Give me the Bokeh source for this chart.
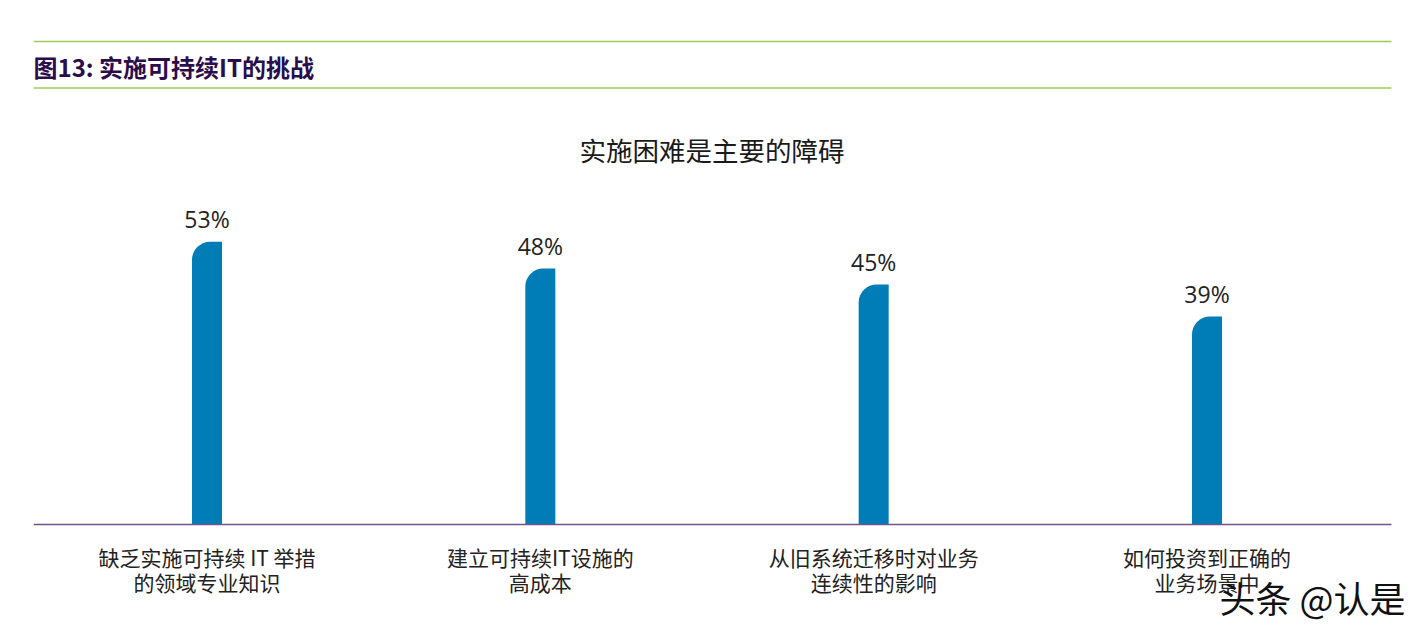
from bokeh.plotting import figure
from bokeh.models import ColumnDataSource, Range1d, Label
from bokeh.core.properties import value
from bokeh.embed import file_html
from bokeh.resources import INLINE

# ---- data ----
categories = ["缺乏实施可持续 IT 举措\n的领域专业知识",
              "建立可持续IT设施的\n高成本",
              "从旧系统迁移时对业务\n连续性的影响",
              "如何投资到正确的\n业务场景中"]
values = [53, 48, 45, 39]
value_labels = ["53%", "48%", "45%", "39%"]

header_title = "图13: 实施可持续IT的挑战"
chart_title = "实施困难是主要的障碍"
watermark = "头条 @认是"

CJK = "Noto Sans CJK SC"
LAT = "Open Sans"

idx = list(range(len(categories)))
line1 = [c.split("\n")[0] for c in categories]
line2 = [c.split("\n")[1] for c in categories]
src = ColumnDataSource(dict(x=idx, top=values, lab=value_labels, l1=line1, l2=line2))

# ---- layout ----
px_per_unit = 16 / 3.0          # px per percentage point
px_per_cat = 1000 / 3.0          # px per category
BASE = 524
FIG_W, FIG_H = 1419, 626
LEFT = 33
X_START = -0.5205
RULE_END = X_START + (1391 - LEFT) / px_per_cat
X_END = X_START + (FIG_W - LEFT) / px_per_cat
y_top = BASE / px_per_unit
y_bot = -(FIG_H - BASE) / px_per_unit

p = figure(width=FIG_W, height=FIG_H, output_backend="svg", toolbar_location=None,
           x_range=Range1d(X_START, X_END),
           y_range=Range1d(y_bot, y_top),
           x_axis_location=None, y_axis_location=None,
           min_border_left=LEFT, min_border_right=0, min_border_top=0, min_border_bottom=0)
p.grid.visible = False
p.outline_line_color = None
p.background_fill_color = "white"
p.border_fill_color = "white"

def ypix(page_y):
    return (BASE - page_y) / px_per_unit

# header rules
rules_y = [ypix(41), ypix(87.5)]
p.segment(x0=[X_START] * 2, x1=[RULE_END] * 2, y0=rules_y, y1=rules_y,
          line_color="#9CCB5E", line_width=1.5)

# header title
p.add_layout(Label(x=0, y=ypix(65.5), x_units="screen", text=header_title,
                   text_font=CJK, text_font_size="24px", text_font_style="bold",
                   text_color="#2B0D4D", text_baseline="middle", text_align="left"))
# chart title
p.add_layout(Label(x=(711.5 - LEFT), y=ypix(149), x_units="screen", text=chart_title,
                   text_font=CJK, text_font_size="26.5px", text_font_style="normal",
                   text_color="#1a1a1a", text_baseline="middle", text_align="center"))

# bars
p.vbar(x="x", top="top", bottom=0, width=30 / px_per_cat, source=src,
       fill_color="#007CB7", line_color=None, border_radius=(18, 0, 0, 0))

# baseline axis
p.segment(x0=[X_START], x1=[RULE_END], y0=[0], y1=[0], line_color="#6E5590", line_width=1.6)

# value labels
p.text(x="x", y="top", text="lab", source=src, text_font=value(LAT), text_font_size="23px",
       text_color="#222222", text_align="center", text_baseline="middle", y_offset=-23)

# category labels
p.text(x="x", y=0, text="l1", source=src, text_font=value(CJK), text_font_size="21px",
       text_color="#222222", text_align="center", text_baseline="middle", y_offset=32)
p.text(x="x", y=0, text="l2", source=src, text_font=value(CJK), text_font_size="21px",
       text_color="#222222", text_align="center", text_baseline="middle", y_offset=57)

# watermark
p.add_layout(Label(x=(1312 - LEFT), y=ypix(596), x_units="screen", text=watermark,
                   text_font=CJK, text_font_size="36px", text_color="#111111",
                   text_baseline="middle", text_align="center"))

open("out.html", "w").write(file_html(p, INLINE))
